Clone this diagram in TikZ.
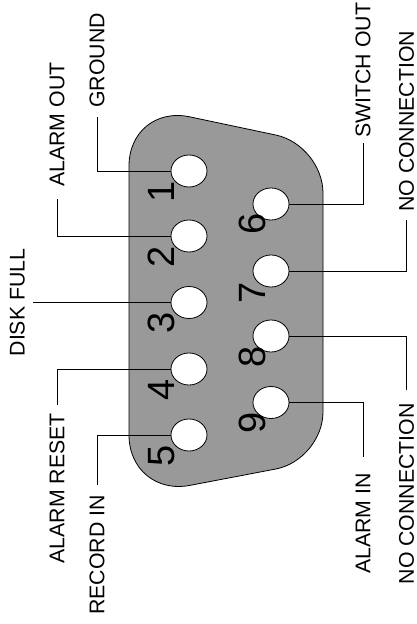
\documentclass[tikz,border=0pt]{standalone}
\usepackage{fontspec}
\setmainfont{Liberation Sans}
\usetikzlibrary{shapes.geometric}

\begin{document}
\begin{tikzpicture}
[x=1pt,y=-1pt,%
  bodyDecorate/.style={draw,line width=0.8pt,fill=black!40},%
  pinDecorate/.style={shape=ellipse,draw,line width=0.8pt,fill=white,inner sep=0pt,minimum width=36pt,minimum height=32pt},%
  numberDecorate/.style={rotate=90,inner sep=0pt,font=\fontsize{38}{40}\selectfont},%
  labelDecorate/.style={rotate=90,inner ysep=8pt,font=\fontsize{21.3}{24}\selectfont},%
  lineDecorate/.style={-,line width=1pt}]
\useasboundingbox (0,0) rectangle (417,624);
%% connector shell
\draw[bodyDecorate] (129,300) [rounded corners=62pt] -- (129,104)
  [rounded corners=48pt] -- (323,145) -- (323,460)
  [rounded corners=62pt] -- (129,497) -- cycle;
%% pins
\foreach \nodename/\x/\y in {1/189/171, 2/189/236, 3/189/302.5, 4/189/369, 5/189/435,
  6/271/204, 7/271/271, 8/271/336, 9/271/402.5}
{
  \node (p\nodename) at (\x,\y) [pinDecorate] {};
}
%% pin numbers
\foreach \nodename/\x/\y in {1/161.5/192, 2/161.5/257, 3/161.5/323, 4/161.5/390, 5/161.5/456,
  6/252/224, 7/252/293, 8/252/357, 9/252/423}
{
  \node (n\nodename) at (\x,\y) [numberDecorate] {\nodename};
}
%% signal names
\foreach \nodename/\x/\y/\side/\gap/\txt in {gnd/97/117/west/9/GROUND, aout/57/199/west/12/ALARM OUT,
  dsk/33/302.5/south/10/DISK FULL, ares/57/405/east/8/ALARM RESET, rec/97/485/east/10/RECORD IN,
  swo/363/143/west/5/SWITCH OUT, ncA/406.5/220/west/8/NO CONNECTION,
  ncB/406.5/390/east/13/NO CONNECTION, ain/363/457/east/16/ALARM IN}
{
  \node (\nodename) at (\x,\y) [labelDecorate,inner xsep=\gap pt,anchor=\side] {\txt};
}
%% wires
\foreach \startnode/\endnode in {p1.west/gnd.west, p2.west/aout.west, p3.west/dsk.south,
  p4.west/ares.east, p5.west/rec.east, p6.east/swo.west, p7.east/ncA.west,
  p8.east/ncB.east, p9.east/ain.east}
{
  \draw[lineDecorate] (\startnode) -| (\endnode);
}
\end{tikzpicture}
\end{document}
